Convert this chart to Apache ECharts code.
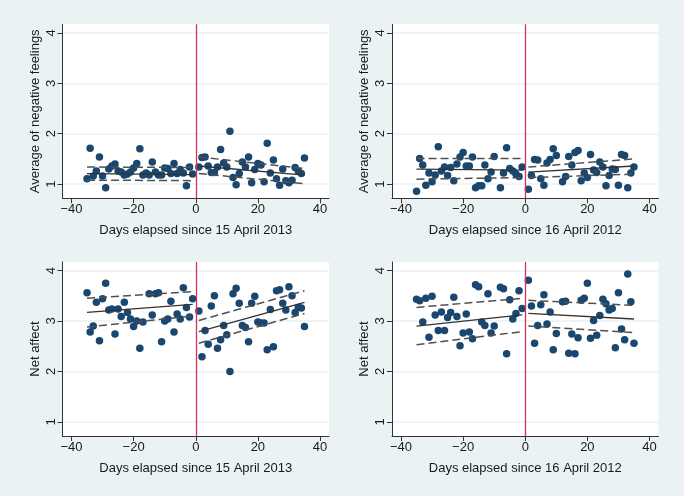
<!DOCTYPE html>
<html><head><meta charset="utf-8">
<script src="https://cdn.jsdelivr.net/npm/echarts@6/dist/echarts.min.js"></script>
<style>html,body{margin:0;padding:0;background:#EAF2F3}#c{width:684px;height:496px}</style>
</head><body><div id="c"></div>
<script>
// ---- tick labels ----
const xTicks = [-40, -20, 0, 20, 40];
const yTicks = [1, 2, 3, 4];
const xTitle2013 = 'Days elapsed since 15 April 2013';
const xTitle2012 = 'Days elapsed since 16 April 2012';
const yTitleNeg = 'Average of negative feelings';
const yTitleNet = 'Net affect';
// days at which fitted lines / bands start and end (left segment, right segment)
const fitDays = [-35, -1, 1, 35];

// ---- Panel 1: negative feelings, 2013 ----
const neg2013Days = [-35,-34,-33,-32,-31,-30,-29,-28,-27,-26,-25,-24,-23,-22,-21,-20,-19,-18,-17,-16,-15,-14,-13,-12,-11,-10,-9,-8,-7,-6,-5,-4,-3,-2,-1,
  1,2,3,4,5,6,7,8,9,10,11,12,13,14,15,16,17,18,19,20,21,22,23,24,25,26,27,28,29,30,31,32,33,34,35];
const neg2013Vals = [1.11,1.71,1.16,1.26,1.54,1.16,0.93,1.30,1.36,1.40,1.26,1.24,1.18,1.20,1.24,1.32,1.41,1.70,1.18,1.22,1.18,1.44,1.24,1.18,1.18,1.32,1.31,1.21,1.41,1.21,1.29,1.22,0.97,1.34,1.20,
  1.34,1.53,1.54,1.36,1.23,1.23,1.34,1.69,1.42,1.34,2.05,1.13,0.99,1.21,1.44,1.34,1.54,1.03,1.29,1.41,1.38,1.05,1.81,1.22,1.48,1.11,0.98,1.30,1.07,1.03,1.08,1.33,1.26,1.21,1.52];
const neg2013Fit = [1.21, 1.19, 1.36, 1.18];
const neg2013Upper = [1.34, 1.33, 1.54, 1.31];
const neg2013Lower = [1.08, 1.07, 1.21, 1.01];

// ---- Panel 2: negative feelings, 2012 ----
const neg2012Days = [-35,-34,-33,-32,-31,-30,-29,-28,-27,-26,-25,-24,-23,-22,-21,-20,-19,-18,-17,-16,-15,-14,-13,-12,-11,-10,-8,-7,-6,-5,-4,-3,-2,-1,
  1,2,3,4,5,6,7,8,9,10,12,13,14,15,16,17,18,19,20,21,22,23,24,25,26,27,28,29,30,31,32,33,34,35];
const neg2012Vals = [0.86,1.51,1.38,0.98,1.22,1.05,1.18,1.74,1.26,1.34,1.17,1.33,1.07,1.40,1.54,1.63,1.36,1.36,1.54,0.93,0.97,0.97,1.38,1.11,1.24,1.55,0.93,1.22,1.72,1.31,1.26,1.20,1.15,1.34,
  0.90,1.17,1.49,1.48,1.11,0.98,1.42,1.49,1.70,1.57,1.05,1.15,1.55,1.38,1.63,1.67,1.07,1.22,1.13,1.59,1.28,1.23,1.44,1.34,0.97,1.17,1.30,1.29,0.98,1.59,1.57,0.93,1.22,1.34];
const neg2012Fit = [1.30, 1.28, 1.24, 1.36];
const neg2012Upper = [1.51, 1.51, 1.34, 1.50];
const neg2012Lower = [1.10, 1.13, 1.13, 1.20];

// ---- Panel 3: net affect, 2013 ----
const net2013Days = [-35,-34,-33,-32,-31,-30,-29,-28,-27,-26,-25,-24,-23,-22,-21,-20,-19,-18,-17,-15,-14,-13,-12,-11,-10,-9,-8,-7,-6,-5,-4,-3,-2,-1,
  1,2,3,4,5,6,7,8,9,10,11,12,13,14,15,16,17,18,19,20,21,22,23,24,25,26,27,28,29,30,31,32,33,34,35];
const net2013Vals = [3.56,2.78,2.90,3.37,2.61,3.44,3.75,3.22,3.24,2.74,3.24,3.09,3.37,3.17,3.04,2.89,3.00,2.46,2.98,3.54,3.12,3.54,3.56,2.59,3.00,3.04,3.39,2.78,3.14,3.04,3.66,3.27,3.08,3.44,
  3.20,2.29,2.81,2.54,3.30,3.50,2.46,2.63,2.91,2.73,2.00,3.54,3.65,3.35,2.91,2.87,2.59,3.35,3.49,2.98,2.96,2.96,2.43,3.23,2.49,3.60,3.62,3.35,3.22,3.68,3.50,3.17,3.27,3.26,2.89];
const net2013Fit = [3.17, 3.33, 2.79, 3.37];
const net2013Upper = [3.45, 3.58, 3.01, 3.60];
const net2013Lower = [2.88, 3.10, 2.56, 3.15];

// ---- Panel 4: net affect, 2012 ----
const net2012Days = [-35,-34,-33,-32,-31,-30,-29,-28,-27,-26,-25,-24,-23,-22,-21,-20,-19,-18,-17,-16,-15,-14,-13,-12,-11,-10,-8,-7,-6,-5,-4,-3,-2,-1,
  1,2,3,4,5,6,7,8,9,10,12,13,14,15,16,17,18,19,20,21,22,23,24,25,26,27,28,29,30,31,32,33,34,35];
const net2012Vals = [3.43,3.40,2.98,3.45,2.68,3.49,3.12,2.81,3.18,2.81,3.07,3.17,3.47,3.09,2.51,2.76,3.14,2.78,2.65,3.72,3.68,2.98,2.91,3.54,2.76,2.90,3.67,3.64,2.35,3.42,3.04,3.15,3.60,3.25,
  3.81,3.30,2.56,2.91,3.32,3.52,2.94,3.18,2.43,2.75,3.38,3.39,2.36,2.74,2.35,2.67,3.41,3.45,3.75,2.66,3.01,2.72,3.11,3.43,3.34,3.22,3.25,2.47,3.56,2.84,2.63,3.93,3.38,2.56];
const net2012Fit = [2.90, 3.12, 3.15, 3.04];
const net2012Upper = [3.27, 3.45, 3.41, 3.31];
const net2012Lower = [2.53, 2.79, 2.90, 2.77];

// ---- assemble ----
const panelDefs = [
  [neg2013Days, neg2013Vals, neg2013Fit, neg2013Upper, neg2013Lower, xTitle2013, yTitleNeg],
  [neg2012Days, neg2012Vals, neg2012Fit, neg2012Upper, neg2012Lower, xTitle2012, yTitleNeg],
  [net2013Days, net2013Vals, net2013Fit, net2013Upper, net2013Lower, xTitle2013, yTitleNet],
  [net2012Days, net2012Vals, net2012Fit, net2012Upper, net2012Lower, xTitle2012, yTitleNet]
];
const gridBoxes = [
  {left: 62.5, top: 24.3, width: 266.5, height: 174},
  {left: 392, top: 24.3, width: 266.5, height: 174},
  {left: 62.5, top: 262, width: 266.5, height: 174},
  {left: 392, top: 262, width: 266.5, height: 174}
];
const FONT = '"Liberation Sans", Arial, Helvetica, sans-serif';
const minus = v => String(v).replace('-', '\u2212');

const grid = [], xAxis = [], yAxis = [], series = [];
panelDefs.forEach((p, i) => {
  const [days, vals, fit, up, lo, xName, yName] = p;
  grid.push(Object.assign({show: true, backgroundColor: '#ffffff', borderWidth: 0, containLabel: false}, gridBoxes[i]));
  xAxis.push({
    gridIndex: i, type: 'value', min: -42.9, max: 42.9,
    name: xName, nameLocation: 'middle', nameGap: 26,
    nameTextStyle: {fontFamily: FONT, fontSize: 13, color: '#1a1a1a'},
    axisLine: {show: true, onZero: false, lineStyle: {color: '#333', width: 1}},
    axisTick: {show: true, length: 5, customValues: xTicks, lineStyle: {color: '#333'}},
    axisLabel: {customValues: xTicks, formatter: minus, fontFamily: FONT, fontSize: 13, color: '#1a1a1a', margin: 5},
    splitLine: {show: false}
  });
  yAxis.push({
    gridIndex: i, type: 'value', min: 0.72, max: 4.17,
    name: yName, nameLocation: 'middle', nameGap: 21,
    nameTextStyle: {fontFamily: FONT, fontSize: 13, color: '#1a1a1a'},
    axisLine: {show: true, onZero: false, lineStyle: {color: '#333', width: 1}},
    axisTick: {show: true, length: 5, customValues: yTicks, lineStyle: {color: '#333'}},
    axisLabel: {customValues: yTicks, rotate: 90, fontFamily: FONT, fontSize: 13, color: '#1a1a1a', margin: 5},
    splitLine: {show: true, lineStyle: {color: '#EAF2F3', width: 1.5}}
  });
  series.push({
    type: 'scatter', xAxisIndex: i, yAxisIndex: i, z: 2,
    symbolSize: 7.5, itemStyle: {color: '#1a476f', opacity: 1},
    data: days.map((d, k) => [d, vals[k]]),
    markLine: {
      silent: true, symbol: 'none', label: {show: false},
      lineStyle: {color: '#d3325f', width: 1.3, type: 'solid'},
      data: [{xAxis: 0}]
    }
  });
  const seg = (arr, a, b) => [[fitDays[a], arr[a]], [fitDays[b], arr[b]]];
  [[fit, 'solid', '#333333', 1.3], [up, [8, 4], '#505050', 1.5], [lo, [8, 4], '#505050', 1.5]].forEach(([arr, type, col, w]) => {
    [[0, 1], [2, 3]].forEach(([a, b]) => {
      series.push({
        type: 'line', xAxisIndex: i, yAxisIndex: i, z: 3, symbol: 'none', silent: true,
        lineStyle: {color: col, width: w, type: type},
        data: seg(arr, a, b)
      });
    });
  });
});

const chart = echarts.init(document.getElementById('c'), null, {renderer: 'canvas'});
chart.setOption({backgroundColor: '#EAF2F3', animation: false, grid, xAxis, yAxis, series});
</script>
</body></html>
